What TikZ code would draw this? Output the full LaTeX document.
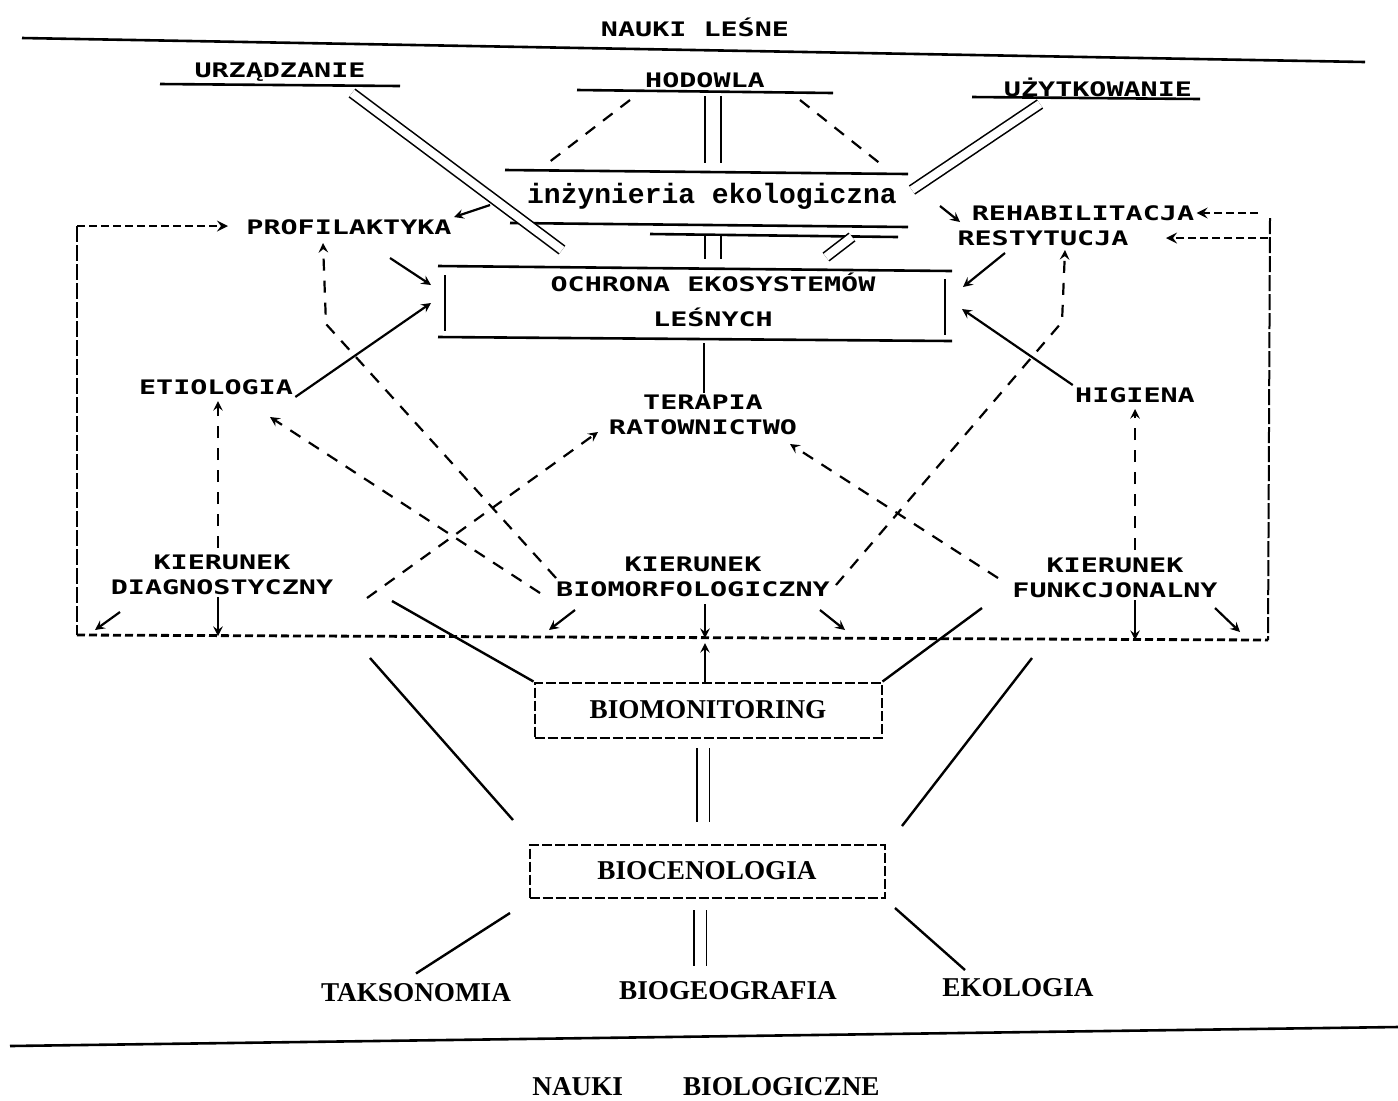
\documentclass[tikz,border=0pt]{standalone}
\usepackage{fontspec}
\newfontfamily\labfont{DejaVu Sans Mono}[FakeStretch=1.42]
\newfontfamily\engfont{Liberation Mono}
\newfontfamily\serfont{Liberation Serif}
\usetikzlibrary{positioning}

\begin{document}
\begin{tikzpicture}[x=0.5pt,y=-0.5pt,>=stealth,
    lab/.style={font=\labfont\bfseries\fontsize{10}{12.5}\selectfont,inner sep=1pt},
    eng/.style={font=\engfont\bfseries\fontsize{14}{16}\selectfont,inner sep=1pt},
    ser/.style={font=\serfont\bfseries\fontsize{13.6}{16}\selectfont,inner sep=1pt},
    hrule/.style={line width=1.3pt},
    arr/.style={->,line width=1.1pt},
    darr/.style={->,line width=1.1pt,dash pattern=on 6pt off 5pt},
    dline/.style={line width=1.1pt,dash pattern=on 6pt off 5pt},
    dbl/.style={double,line width=0.8pt,double distance=#1},
    dbl/.default=4pt,
    bframe/.style={line width=1.4pt,dash pattern=on 4pt off 2pt},
    sframe/.style={line width=1pt,dash pattern=on 8pt off 1.5pt},
    dbox/.style={draw,line width=1pt,dash pattern=on 5pt off 1.5pt,
      font=\serfont\bfseries\fontsize{13.6}{16}\selectfont}]
    \useasboundingbox (0,0) rectangle (1398,1100);
    % create the nodes
    \node[lab] (lesne) at (695,27) {NAUKI LEŚNE};
    \node[lab] (urz) at (280,72) {URZĄDZANIE};
    \node[lab] (hod) at (705,80) {HODOWLA};
    \node[lab] (uzy) at (1098,87) {UŻYTKOWANIE};
    \node[eng] (inz) at (712,196) {inżynieria ekologiczna};
    \node[lab] (prof) at (349,227) {PROFILAKTYKA};
    \node[lab] (rehab) at (1083,213) {REHABILITACJA};
    \node[lab] (rest) at (1043,238) {RESTYTUCJA};
    \node[lab,align=center] (och) at (713,300) {OCHRONA EKOSYSTEMÓW\\[5pt]LEŚNYCH};
    \node[lab] (etio) at (216,387) {ETIOLOGIA};
    \node[lab,align=center] (ter) at (703,415) {TERAPIA\\RATOWNICTWO};
    \node[lab] (hig) at (1135,395) {HIGIENA};
    \node[lab,align=center] (diag) at (222,575) {KIERUNEK\\DIAGNOSTYCZNY};
    \node[lab,align=center] (morf) at (693,577) {KIERUNEK\\BIOMORFOLOGICZNY};
    \node[lab,align=center] (funk) at (1115,578) {KIERUNEK\\FUNKCJONALNY};
    \node[dbox,minimum width=173.5pt,minimum height=27.5pt] (bmon) at (708,710) {BIOMONITORING};
    \node[dbox,minimum width=177.5pt,minimum height=26.5pt] (bcen) at (707,871) {BIOCENOLOGIA};
    \node[ser] (taks) at (416,993) {TAKSONOMIA};
    \node[ser] (bgeo) at (728,991) {BIOGEOGRAFIA};
    \node[ser] (eko) at (1018,988) {EKOLOGIA};
    \node[ser] (biol) at (706,1087) {NAUKI\hspace{30pt}BIOLOGICZNE};
    % rules and the box of the centre
    \draw[hrule] (22,38) -- (1365,62);
    \draw[hrule] (160,84) -- (400,86);
    \draw[hrule] (577,90) -- (833,93);
    \draw[hrule] (972,97) -- (1200,99);
    \draw[hrule] (505,170) -- (908,174);
    \draw[hrule] (510,223) -- (908,227);
    \draw[hrule] (650,234) -- (898,237);
    \draw[hrule] (438,266) -- (952,271);
    \draw[hrule] (438,337) -- (952,341);
    \draw[hrule] (445,275) -- (445,331);
    \draw[hrule] (945,279) -- (945,335);
    \draw[hrule] (10,1046) -- (1398,1027);
    % anchor points
    \coordinate (urzA) at (352,93);
    \coordinate (urzB) at (562,250);
    \coordinate (urzC) at (490,205);
    \coordinate (uzyA) at (1040,104);
    \coordinate (uzyB) at (912,190);
    \coordinate (hodA) at (713,96);
    \coordinate (hodB) at (713,163);
    \coordinate (inzA) at (713,236);
    \coordinate (inzB) at (713,259);
    \coordinate (inzC) at (852,237);
    \coordinate (inzD) at (826,257);
    \coordinate (hodL) at (630,100);
    \coordinate (hodLb) at (548,163);
    \coordinate (hodR) at (800,100);
    \coordinate (hodRb) at (882,165);
    \coordinate (ochA) at (431,285);
    \coordinate (ochB) at (431,303);
    \coordinate (ochC) at (963,287);
    \coordinate (ochD) at (962,309);
    \coordinate (ochS) at (704,343);
    \coordinate (profOut) at (390,258);
    \coordinate (profIn) at (228,226);
    \coordinate (profUp) at (323,243);
    \coordinate (bendL) at (326,324);
    \coordinate (restOut) at (1005,253);
    \coordinate (restIn) at (1166,238);
    \coordinate (restUp) at (1065,250);
    \coordinate (bendR) at (1062,322);
    \coordinate (rehabOut) at (940,206);
    \coordinate (rehabIn) at (960,222);
    \coordinate (etioIn) at (270,417);
    \coordinate (etioUp) at (218,401);
    \coordinate (higUp) at (1135,409);
    \coordinate (ratL) at (598,432);
    \coordinate (ratR) at (790,444);
    \coordinate (morfA) at (556,578);
    \coordinate (morfB) at (540,593);
    \coordinate (morfC) at (836,585);
    \coordinate (diagOut) at (367,598);
    \coordinate (diagLow) at (392,601);
    \coordinate (diagUp) at (218,548);
    \coordinate (funkOut) at (998,578);
    \coordinate (funkLow) at (982,608);
    \coordinate (funkUp) at (1135,550);
    \coordinate (frTL) at (77,226);
    \coordinate (frBL) at (77,635);
    \coordinate (frBR) at (1268,640);
    \coordinate (frTR) at (1270,218);
    \coordinate (frA) at (218,636);
    \coordinate (frB) at (705,638);
    \coordinate (frC) at (705,643);
    \coordinate (frD) at (1135,640);
    \coordinate (bmonUp) at (705,683);
    \coordinate (cenL) at (370,658);
    \coordinate (cenLb) at (513,820);
    \coordinate (cenR) at (1032,658);
    \coordinate (cenRb) at (902,826);
    % connect the nodes
    \draw[dbl] (urzA) -- (urzB);
    \draw[dbl] (uzyA) -- (uzyB);
    \draw[dbl=7pt] (hodA) -- (hodB);
    \draw[dbl=7pt] (inzA) -- (inzB);
    \draw[dbl] (inzC) -- (inzD);
    \draw[dline] (hodL) -- (hodLb);
    \draw[dline] (hodR) -- (hodRb);
    \draw[arr] (urzC) -- (prof.north east);
    \draw[arr] (rehabOut) -- (rehabIn);
    \draw[arr] (profOut) -- (ochA);
    \draw[arr] (etio.south east) -- (ochB);
    \draw[arr] (restOut) -- (ochC);
    \draw[arr] (hig.north west) -- (ochD);
    \draw[line width=1.1pt] (ochS) -- (ochS |- ter.north);
    \draw[darr] (morfA) -- (bendL) -- (profUp);
    \draw[darr] (morfB) -- (etioIn);
    \draw[darr] (diagOut) -- (ratL);
    \draw[darr] (funkOut) -- (ratR);
    \draw[darr] (morfC) -- (bendR) -- (restUp);
    \draw[darr] (diagUp) -- (etioUp);
    \draw[darr] (funkUp) -- (higUp);
    % the frame
    \draw[sframe] (frTL) -- (frBL);
    \draw[sframe] (frTR) -- (frBR);
    \draw[bframe] (frBL) -- (frBR);
    \draw[bframe,->] (frTL) -- (profIn);
    \draw[bframe,->] (1258,213) -- (rehab.east);
    \draw[bframe,->] (1268,238) -- (restIn);
    \draw[arr] (120,612) -- (95,630);
    \draw[arr] (575,610) -- (549,630);
    \draw[arr] (820,610) -- (845,630);
    \draw[arr] (1215,608) -- (1240,632);
    \draw[arr] (diag.south -| frA) -- (frA);
    \draw[arr] (705,604) -- (frB);
    \draw[arr] (bmonUp) -- (frC);
    \draw[arr] (funk.south -| frD) -- (frD);
    % the biological part
    \draw[line width=1.2pt] (bmon.north west) -- (diagLow);
    \draw[line width=1.2pt] (bmon.north east) -- (funkLow);
    \draw[line width=1.2pt] (cenL) -- (cenLb);
    \draw[line width=1.2pt] (cenR) -- (cenRb);
    \draw[dbl=5.5pt] (703,748) -- (703,822);
    \draw[dbl=5.5pt] (700,910) -- (700,966);
    \draw[line width=1.2pt] (510,913) -- ([yshift=4pt]taks.north);
    \draw[line width=1.2pt] (895,908) -- (965,970);
\end{tikzpicture}
\end{document}
